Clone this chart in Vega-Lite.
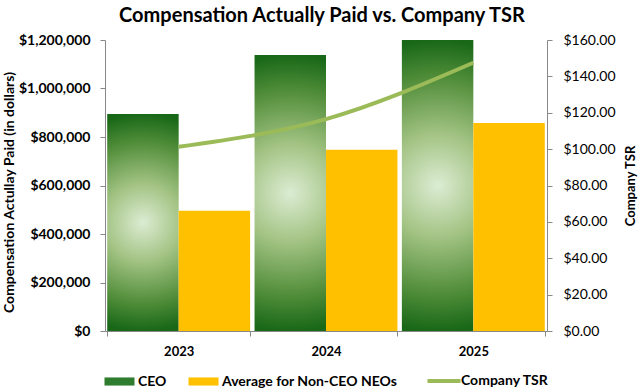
{
  "$schema": "https://vega.github.io/schema/vega-lite/v6.json",
  "width": 442,
  "height": 291,
  "autosize": {"type": "none"},
  "padding": {"left": 105, "top": 40, "right": 92, "bottom": 60},
  "title": {"text": "Compensation Actually Paid vs. Company TSR", "font": "Lato", "fontSize": 20, "fontWeight": "bold", "color": "#000000", "offset": 7, "dx": -4},
  "config": {
    "view": {"stroke": null},
    "axis": {"labelFont": "Lato", "titleFont": "Lato", "labelFontWeight": "bold", "titleFontWeight": "bold", "labelColor": "#000000", "titleColor": "#000000", "domainColor": "#898989", "tickColor": "#898989", "grid": false, "labelFontSize": 13, "titleFontSize": 14, "tickSize": 5}
  },
  "datasets": {
    "bars": [
      {"year": "2023", "series": "CEO", "value": 895000},
      {"year": "2023", "series": "Average for Non-CEO NEOs", "value": 496000},
      {"year": "2024", "series": "CEO", "value": 1138000},
      {"year": "2024", "series": "Average for Non-CEO NEOs", "value": 747000},
      {"year": "2025", "series": "CEO", "value": 1200000},
      {"year": "2025", "series": "Average for Non-CEO NEOs", "value": 858000}
    ],
    "tsr": [
      {"year": "2023", "series": "Company TSR", "tsr": 101.3},
      {"year": "2024", "series": "Company TSR", "tsr": 116.5},
      {"year": "2025", "series": "Company TSR", "tsr": 147.5}
    ]
  },
  "layer": [
    {
      "data": {"name": "bars"},
      "mark": {"type": "bar"},
      "encoding": {
        "x": {"field": "year", "type": "nominal", "scale": {"paddingInner": 0.03, "paddingOuter": 0.015}, "axis": {"title": null, "labelAngle": 0, "tickBand": "extent", "labelPadding": 9}},
        "xOffset": {"field": "series", "type": "nominal", "sort": ["CEO", "Average for Non-CEO NEOs"], "scale": {"paddingInner": 0, "paddingOuter": 0}},
        "y": {"field": "value", "type": "quantitative", "scale": {"domain": [0, 1200000]}, "axis": {"values": [0, 200000, 400000, 600000, 800000, 1000000, 1200000], "format": "$,.0f", "title": "Compensation Actullay Paid (in dollars)", "titlePadding": 2, "titleFontSize": 14, "titleY": 152, "labelFontSize": 14, "labelPadding": 10}},
        "color": {
          "condition": {
            "test": "datum.series === 'CEO'",
            "value": {"gradient": "radial", "x1": 0.5, "y1": 0.5, "r1": 0, "x2": 0.5, "y2": 0.5, "r2": 0.5,
              "stops": [{"offset": 0, "color": "#dcecd3"}, {"offset": 0.35, "color": "#a4c485"}, {"offset": 0.75, "color": "#4f8c38"}, {"offset": 1, "color": "#186818"}]}
          },
          "field": "series", "type": "nominal",
          "scale": {
            "domain": ["CEO", "Average for Non-CEO NEOs", "Company TSR"],
            "range": ["#2e7d2e", "#FFC000", "#9BBB59"]
          },
          "legend": {
            "title": null, "orient": "bottom", "direction": "horizontal", "offset": 16,
            "labelFont": "Lato", "labelFontWeight": "bold", "labelFontSize": 14, "labelColor": "#000000", "labelLimit": 400,
            "symbolSize": 900, "columnPadding": 21, "labelOffset": 19,
            "encode": {
              "symbols": {
                "update": {
                  "shape": {"signal": "datum.value === 'Company TSR' ? 'M-0.5,0H1.7' : 'M-0.5,-0.27H1.5V0.27H-0.5Z'"},
                  "fill": {"signal": "datum.value === 'Company TSR' ? 'transparent' : scale('color', datum.value)"},
                  "stroke": {"signal": "datum.value === 'Company TSR' ? '#9BBB59' : 'transparent'"},
                  "strokeWidth": {"signal": "datum.value === 'Company TSR' ? 4 : 0"},
                  "opacity": {"value": 1}
                }
              }
            }
          }
        }
      }
    },
    {
      "data": {"name": "tsr"},
      "mark": {"type": "line", "strokeWidth": 4, "interpolate": "monotone"},
      "encoding": {
        "x": {"field": "year", "type": "nominal"},
        "y": {"field": "tsr", "type": "quantitative", "scale": {"domain": [0, 160]}, "axis": {"orient": "right", "values": [0, 20, 40, 60, 80, 100, 120, 140, 160], "format": "$.2f", "title": "Company TSR", "titleAngle": 270, "titlePadding": 22, "labelFontWeight": "normal", "labelFontSize": 14, "labelPadding": 11, "titleFontSize": 13}},
        "color": {"field": "series", "type": "nominal"}
      }
    }
  ],
  "resolve": {"scale": {"y": "independent"}}
}
